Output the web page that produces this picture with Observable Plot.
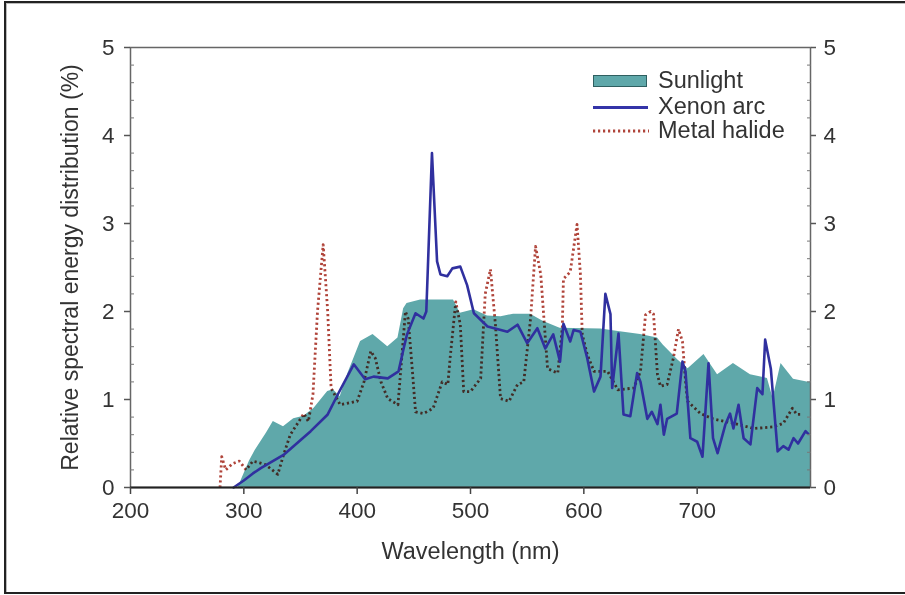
<!DOCTYPE html>
<html>
<head>
<meta charset="utf-8">
<script src="https://cdn.jsdelivr.net/npm/d3@7"></script>
<script src="https://cdn.jsdelivr.net/npm/@observablehq/plot@0.6"></script>
<style>
  html, body { margin: 0; padding: 0; background: #fff; }
  #wrap { position: relative; width: 905px; height: 595px; overflow: hidden; font-family: 'Liberation Sans', Arial, Helvetica, sans-serif; color: #333; }
  #outer { position: absolute; left: 4px; top: 1px; width: 910px; height: 589px; border: 2px solid #222; box-shadow: inset 1px 1px 0 #bbb; pointer-events: none; }
  .lg { position: absolute; }
  .lgt { position: absolute; left: 658px; font-size: 23.5px; line-height: 22px; white-space: nowrap; color: #333; }
</style>
</head>
<body>
<div id="wrap">
  <div id="outer"></div>
  <div id="chart"></div>
  <div class="lg" style="left:593px; top:75px; width:52px; height:10px; background:#5fa8aa; border:1.5px solid #2f5f60;"></div>
  <div class="lg" style="left:593px; top:106px; width:55px; height:3px; background:#3434a8;"></div>
  <svg class="lg" style="left:593px; top:128px;" width="56" height="6"><line x1="0" y1="3" x2="56" y2="3" stroke="#b0443a" stroke-width="2.8" stroke-dasharray="2.2,2.8"/></svg>
  <div class="lgt" id="l0" style="top:69px;"></div>
  <div class="lgt" id="l1" style="top:95px;"></div>
  <div class="lgt" id="l2" style="top:119px;"></div>
</div>
<script>
// ---- Data ----
const seriesNames = ["Sunlight", "Xenon arc", "Metal halide"];

const sunWl  = [295, 300, 305, 310, 315, 320, 326, 335, 344, 353, 362, 374, 379, 385, 392, 403, 414, 427, 436, 441, 444, 456, 485, 491, 503, 515, 527, 538, 553, 564, 579, 615, 632, 650, 665, 670, 683, 692, 706, 718, 732, 747, 762, 767, 774, 785, 797, 800];
const sunVal = [0, 0.15, 0.3, 0.42, 0.52, 0.62, 0.75, 0.69, 0.78, 0.81, 0.9, 1.09, 1.11, 1.03, 1.3, 1.66, 1.74, 1.6, 1.7, 2.03, 2.09, 2.13, 2.13, 1.98, 2.02, 1.95, 1.94, 1.97, 1.97, 1.89, 1.81, 1.8, 1.77, 1.74, 1.7, 1.62, 1.45, 1.35, 1.51, 1.28, 1.41, 1.28, 1.24, 1.01, 1.41, 1.23, 1.2, 1.2];

const xenonWl  = [291, 300, 308, 315, 335, 359, 374, 383, 397, 407, 414.5, 427, 436.5, 441, 444, 451.5, 458.5, 461, 466, 470.5, 473.5, 479.5, 484, 491, 497, 503, 515, 532.6, 541.5, 550, 559, 566, 573, 579, 582, 588, 591, 597, 603, 609, 614.7, 619, 623.5, 625, 630.6, 635, 641, 647, 650, 656, 660, 665, 667.6, 670.6, 673.5, 682, 687, 689.7, 694, 700, 704.7, 710, 714, 718, 725, 729, 732, 736.5, 741, 747, 753, 757.6, 760, 765, 767.6, 771, 776, 780.6, 785, 789, 795.6, 798];
const xenonVal = [0, 0.08, 0.16, 0.22, 0.37, 0.64, 0.83, 1.06, 1.4, 1.23, 1.26, 1.24, 1.32, 1.58, 1.74, 1.98, 1.92, 2.0, 3.8, 2.57, 2.42, 2.4, 2.49, 2.51, 2.3, 1.98, 1.83, 1.77, 1.85, 1.64, 1.81, 1.58, 1.74, 1.43, 1.86, 1.66, 1.79, 1.77, 1.47, 1.09, 1.26, 2.2, 1.97, 1.13, 1.75, 0.83, 0.81, 1.3, 1.2, 0.78, 0.86, 0.72, 0.94, 0.6, 0.78, 0.84, 1.43, 1.32, 0.56, 0.52, 0.35, 1.41, 0.56, 0.39, 0.72, 0.84, 0.67, 0.94, 0.56, 0.49, 1.13, 1.06, 1.68, 1.35, 0.94, 0.41, 0.47, 0.43, 0.56, 0.5, 0.64, 0.61];

const halideWl  = [279, 280.5, 284, 290, 296, 302, 308, 314, 319, 330, 335, 341, 350, 353, 357, 361, 365, 370, 374, 377, 385, 400, 406, 412, 416, 421, 427, 436, 440, 442.6, 445, 449, 451.5, 458.5, 467, 475, 480, 482, 487, 491, 494, 500, 509, 513, 517.6, 522, 526.5, 534, 541.5, 547, 553, 557.4, 562, 564.5, 568, 577, 581, 582, 588, 594, 597, 598.6, 603, 609, 621, 630, 644, 650, 654.4, 659, 661.5, 665, 667.6, 673.5, 679, 683.5, 687, 690, 691.5, 703, 714, 732, 750, 767.6, 776, 784, 788, 793];
const halideVal = [0, 0.35, 0.2, 0.27, 0.3, 0.2, 0.3, 0.28, 0.26, 0.15, 0.37, 0.6, 0.78, 0.84, 0.75, 1.06, 2.0, 2.76, 2.0, 1.13, 0.94, 0.98, 1.2, 1.55, 1.47, 1.2, 1.01, 0.94, 1.58, 2.0, 1.92, 1.28, 0.86, 0.84, 0.9, 1.2, 1.17, 1.47, 2.11, 1.85, 1.09, 1.09, 1.24, 2.2, 2.48, 1.85, 1.01, 0.98, 1.17, 1.2, 1.92, 2.74, 2.42, 1.97, 1.35, 1.3, 1.81, 2.37, 2.45, 2.99, 2.42, 1.74, 1.51, 1.32, 1.32, 1.11, 1.13, 1.32, 1.96, 2.0, 1.97, 1.28, 1.15, 1.17, 1.47, 1.8, 1.66, 1.17, 0.98, 0.84, 0.78, 0.73, 0.67, 0.69, 0.73, 0.9, 0.83, 0.83];

const xTicks = [200, 300, 400, 500, 600, 700];
const yTicks = [0, 1, 2, 3, 4, 5];
const yMinor = [0.2, 0.4, 0.6, 0.8, 1.2, 1.4, 1.6, 1.8, 2.2, 2.4, 2.6, 2.8, 3.2, 3.4, 3.6, 3.8, 4.2, 4.4, 4.6, 4.8];
const xLabel = "Wavelength (nm)";
const yLabel = "Relative spectral energy distribution (%)";

// ---- Build tables ----
const sun = sunWl.map((w, i) => ({wl: w, v: sunVal[i]}));
const xenon = xenonWl.map((w, i) => ({wl: w, v: xenonVal[i]}));
const halide = halideWl.map((w, i) => ({wl: w, v: halideVal[i]}));

const chart = Plot.plot({
  width: 905,
  height: 595,
  marginLeft: 130,
  marginRight: 95,
  marginTop: 47,
  marginBottom: 108,
  x: {domain: [200, 800]},
  y: {domain: [0, 5]},
  style: {
    fontFamily: "'Liberation Sans', Arial, Helvetica, sans-serif",
    fontSize: "22.5px",
    color: "#333",
    background: "transparent",
    overflow: "visible"
  },
  marks: [
    Plot.areaY(sun, {x: "wl", y: "v", fill: "#5fa8aa"}),
    Plot.line(halide, {x: "wl", y: "v", stroke: "#b0443a", strokeWidth: 2.8, strokeDasharray: "2.2,2.8", strokeLinecap: "butt", mixBlendMode: "multiply"}),
    Plot.line(xenon, {x: "wl", y: "v", stroke: "#30309f", strokeWidth: 2.6, strokeLinejoin: "round"}),
    Plot.frame({stroke: "#666", strokeWidth: 1.5}),
    Plot.ruleY([0], {stroke: "#222", strokeWidth: 2}),
    Plot.axisX({ticks: xTicks, tickSize: 7, tickPadding: 8, tickFormat: d => String(d), label: null, stroke: "#444", strokeWidth: 1.5}),
    Plot.axisY({anchor: "left", ticks: yTicks, tickSize: 6, tickPadding: 10, tickFormat: d => String(d), label: null, stroke: "#555", strokeWidth: 1.5}),
    Plot.axisY({anchor: "right", ticks: yTicks, tickSize: 5, tickPadding: 8, tickFormat: d => String(d), label: null, stroke: "#555", strokeWidth: 1.5}),
    Plot.axisY({anchor: "left", ticks: yMinor, tickSize: 4, dx: 4, tickFormat: () => "", label: null, stroke: "#777"}),
    Plot.axisY({anchor: "right", ticks: yMinor, tickSize: 4, dx: -4, tickFormat: () => "", label: null, stroke: "#777"}),
    Plot.text([xLabel], {frameAnchor: "bottom", dy: 64, fontSize: 23.5, lineAnchor: "middle", textAnchor: "middle", fill: "#333"}),
    Plot.text([yLabel], {frameAnchor: "left", dx: -60, rotate: -90, fontSize: 23, lineAnchor: "middle", textAnchor: "middle", fill: "#333"})
  ]
});
document.getElementById("chart").appendChild(chart);
document.getElementById("l0").textContent = seriesNames[0];
document.getElementById("l1").textContent = seriesNames[1];
document.getElementById("l2").textContent = seriesNames[2];
</script>
</body>
</html>
